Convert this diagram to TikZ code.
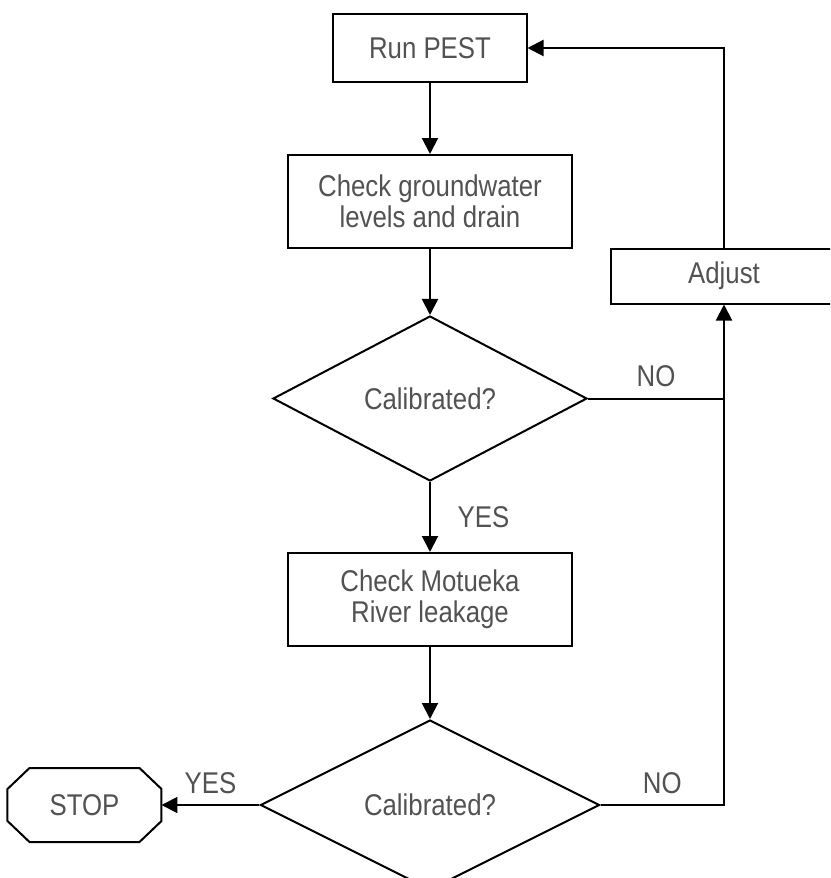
\documentclass[tikz,border=0pt]{standalone}
\usepackage{fontspec}
\setmainfont[FakeStretch=0.86]{Liberation Sans}
\usepackage{tikz}
\usetikzlibrary{arrows.meta,positioning,shapes.geometric}

\begin{document}
\begin{tikzpicture}[
  base/.style={draw, line width=1pt, text=black!68, align=center,
    font=\fontsize{15}{15.5}\selectfont, inner sep=0pt},
  procbox/.style={base, minimum width=142pt, minimum height=46.5pt},
  runbox/.style={base, minimum width=96.5pt, minimum height=34pt},
  adjbox/.style={base, minimum width=113pt, minimum height=27.5pt},
  decision/.style={base, diamond, minimum width=157pt, minimum height=82.5pt},
  stopbox/.style={base, draw=none, minimum width=76pt, minimum height=36pt},
  arr/.style={-{Triangle[length=8pt,width=8pt]}, line width=1pt},
  lin/.style={line width=1pt},
  lab/.style={text=black!68, font=\fontsize{15}{15}\selectfont},
]
\clip (-215pt,24pt) rectangle (200pt,-415pt);
\useasboundingbox (-215pt,24pt) rectangle (200pt,-415pt);

% --- main column ---
\node[runbox] (run) at (0,0) {Run PEST};
\node[procbox, below=35.5pt of run] (gw)   {Check groundwater\\levels and drain};
\node[decision, below=33pt of gw]   (cal1) {Calibrated?};
\node[procbox, below=35pt of cal1]  (riv)  {Check Motueka\\River leakage};
\node[decision, below=36pt of riv, minimum width=169.5pt, minimum height=85pt] (cal2) {Calibrated?};
\node[stopbox, left=49pt of cal2]   (stop) {STOP};

% octagon round STOP
\draw[lin] ([xshift=11pt]stop.north west) -- ([xshift=-11pt]stop.north east)
  -- ([yshift=-10.5pt]stop.north east) -- ([yshift=10.5pt]stop.south east)
  -- ([xshift=-11pt]stop.south east) -- ([xshift=11pt]stop.south west)
  -- ([yshift=10.5pt]stop.south west) -- ([yshift=-10.5pt]stop.north west) -- cycle;

% --- feedback ---
\node[adjbox] (adj) at (147pt,-114pt) {Adjust};

% --- arrows ---
\draw[arr] (run) -- (gw);
\draw[arr] (gw) -- (cal1);
\draw[arr] (cal1) -- node[lab, right=10pt] {YES} (riv);
\draw[arr] (riv) -- (cal2);
\draw[arr] (cal2) -- node[lab, above=2pt] {YES} (stop);
\draw[lin] (cal1.east) -- node[lab, above=2pt] {NO} (cal1.east -| adj.south);
\draw[arr] (cal2.east) -- node[lab, above=2pt] {NO} (cal2.east -| adj.south) -- (adj.south);
\draw[arr] (adj.north) |- (run.east);
\end{tikzpicture}
\end{document}
